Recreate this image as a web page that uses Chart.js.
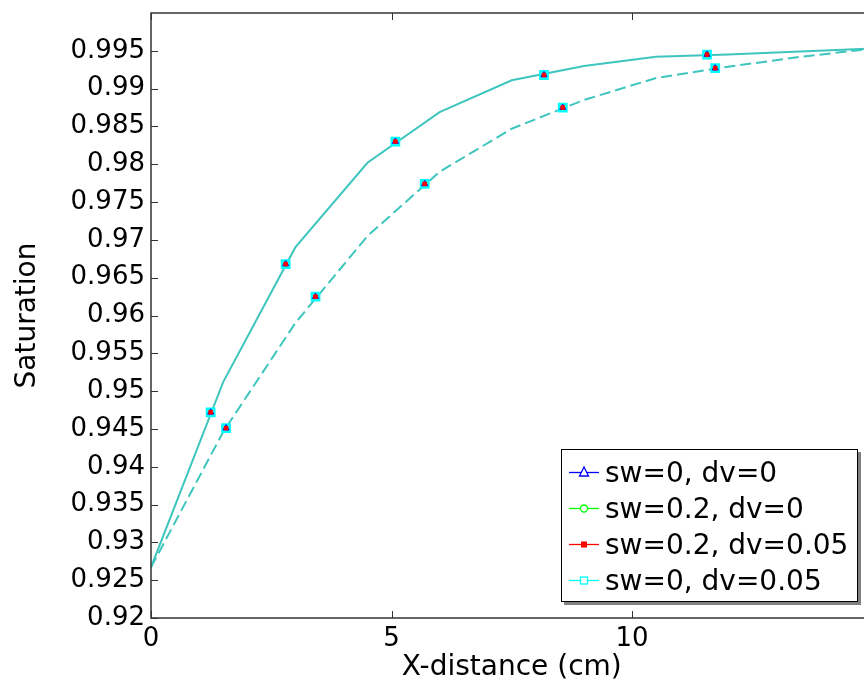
<!DOCTYPE html>
<html>
<head>
    <title>Saturation x X-distance</title>
    <script src="https://cdn.jsdelivr.net/npm/chart.js"></script>
    <style>
        body{
            margin: 0;
            overflow: hidden;
            background: #fff;
        }
        #caixa{
            position: relative;
            width: 880px;
            height: 685px;
        }
        #legenda{
            position: absolute;
            left: 561px;
            top: 449px;
            width: 297px;
            height: 153px;
            box-sizing: border-box;
            border: 1px solid #000;
            background: #fff;
            box-shadow: 3px 3px 0 #808080;
            font-family: "DejaVu Sans";
            font-size: 28px;
            padding-top: 4px;
        }
        .item{
            height: 36px;
            display: flex;
            align-items: center;
            white-space: nowrap;
        }
        .item canvas{
            margin: 0 6px 0 7px;
        }
    </style>
</head>
<body>
    <div id="caixa">
        <canvas id="grafico" width="880" height="685"></canvas>
        <div id="legenda"></div>
    </div>

    <script>
        // nós da malha (cm) e saturação nas duas curvas
        const malha = [0, 1.5, 3, 4.5, 6, 7.5, 9, 10.5, 12, 13.5, 15];
        const satCheia = [0.9267, 0.9512, 0.9690, 0.9802, 0.9869, 0.9911, 0.9930, 0.9942, 0.9945, 0.9949, 0.9953];
        const satTracejada = [0.9267, 0.9446, 0.9590, 0.9705, 0.9790, 0.9847, 0.9885, 0.9914, 0.9929, 0.9942, 0.9953];

        // posições dos marcadores
        const xMarcCheia = [1.24, 2.80, 5.08, 8.17, 11.56];
        const yMarcCheia = [0.9472, 0.9668, 0.9830, 0.9918, 0.9945];
        const xMarcTracejada = [1.56, 3.42, 5.69, 8.56, 11.73];
        const yMarcTracejada = [0.9451, 0.9625, 0.9774, 0.9875, 0.9927];

        const series = ['sw=0, dv=0', 'sw=0.2, dv=0', 'sw=0.2, dv=0.05', 'sw=0, dv=0.05'];
        const cores = ['#0000ff', '#00ff00', '#ff0000', '#00ffff'];
        const simbolos = ['triangle', 'circle', 'rect', 'rect'];

        const yTicks = [0.92, 0.925, 0.93, 0.935, 0.94, 0.945, 0.95, 0.955, 0.96, 0.965, 0.97, 0.975, 0.98, 0.985, 0.99, 0.995];
        const xTicks = [0, 5, 10];

        const corLinha = 'rgb(62,198,190)';
        const fonte = "DejaVu Sans";

        function pontos(xs, ys) {
            return xs.map((x, i) => ({x: x, y: ys[i]}));
        }

        const marcadores = pontos(xMarcCheia, yMarcCheia).concat(pontos(xMarcTracejada, yMarcTracejada));

        // estilo de cada marcador (ordem: menor = desenhado por cima)
        const estiloMarc = [
            {radius: 3.5, fill: 'rgba(0,0,0,0)', width: 1, order: 1},
            {radius: 3, fill: 'rgba(0,0,0,0)', width: 1, order: 3},
            {radius: 2.5, fill: '#ff0000', width: 1, order: 0},
            {radius: 5.5, fill: 'rgba(60,235,235,0.85)', width: 2, order: 2}
        ];

        const datasets = [
            {
                data: pontos(malha, satCheia),
                showLine: true,
                borderColor: corLinha,
                borderWidth: 2,
                pointRadius: 0,
                order: 5
            },
            {
                data: pontos(malha, satTracejada),
                showLine: true,
                borderColor: corLinha,
                borderWidth: 2,
                borderDash: [11, 5],
                pointRadius: 0,
                order: 5
            }
        ];
        series.forEach((nome, i) => {
            datasets.push({
                label: nome,
                data: marcadores,
                showLine: false,
                pointStyle: simbolos[i],
                pointRadius: estiloMarc[i].radius,
                pointBorderColor: cores[i],
                pointBackgroundColor: estiloMarc[i].fill,
                pointBorderWidth: estiloMarc[i].width,
                order: estiloMarc[i].order
            });
        });

        // moldura e marcas de escala para dentro
        const moldura = {
            id: 'moldura',
            afterDraw(chart) {
                const ctx = chart.ctx;
                const a = chart.chartArea;
                const sx = chart.scales.x;
                const sy = chart.scales.y;
                ctx.save();
                ctx.strokeStyle = '#333';
                ctx.lineWidth = 1.5;
                ctx.strokeRect(a.left, a.top, a.right - a.left, a.bottom - a.top);
                ctx.lineWidth = 1;
                ctx.beginPath();
                xTicks.forEach(v => {
                    const px = Math.round(sx.getPixelForValue(v)) + 0.5;
                    ctx.moveTo(px, a.bottom); ctx.lineTo(px, a.bottom - 7);
                    ctx.moveTo(px, a.top); ctx.lineTo(px, a.top + 7);
                });
                yTicks.forEach(v => {
                    const py = Math.round(sy.getPixelForValue(v)) + 0.5;
                    ctx.moveTo(a.left, py); ctx.lineTo(a.left + 7, py);
                    ctx.moveTo(a.right, py); ctx.lineTo(a.right - 7, py);
                });
                ctx.stroke();
                ctx.restore();
            }
        };

        new Chart(document.getElementById('grafico'), {
            type: 'scatter',
            data: {datasets: datasets},
            plugins: [moldura],
            options: {
                responsive: false,
                animation: false,
                events: [],
                layout: {padding: {top: 13, right: 7, left: 0, bottom: 0}},
                plugins: {
                    legend: {display: false},
                    tooltip: {enabled: false}
                },
                scales: {
                    x: {
                        type: 'linear',
                        min: 0,
                        max: 15,
                        afterBuildTicks: s => { s.ticks = xTicks.map(v => ({value: v})); },
                        afterFit: s => { s.height = 67; s.paddingLeft = 0; s.paddingRight = 0; },
                        grid: {display: false, drawTicks: false},
                        border: {display: false},
                        ticks: {
                            color: '#000',
                            padding: 6,
                            maxRotation: 0,
                            font: {family: fonte, size: 26}
                        },
                        title: {
                            display: true,
                            text: 'X-distance (cm)',
                            color: '#000',
                            padding: {top: 0, bottom: 0},
                            font: {family: fonte, size: 28}
                        }
                    },
                    y: {
                        min: 0.92,
                        max: 1.0,
                        afterBuildTicks: s => { s.ticks = yTicks.map(v => ({value: v})); },
                        afterFit: s => { s.width = 151; s.paddingTop = 0; s.paddingBottom = 0; },
                        grid: {display: false, drawTicks: false},
                        border: {display: false},
                        ticks: {
                            color: '#000',
                            padding: 6,
                            font: {family: fonte, size: 26},
                            callback: v => String(+v.toFixed(3))
                        },
                        title: {
                            display: true,
                            text: 'Saturation',
                            color: '#000',
                            padding: {top: 11, bottom: 0},
                            font: {family: fonte, size: 28}
                        }
                    }
                }
            }
        });

        // legenda em HTML dentro da área do gráfico
        const legenda = document.getElementById('legenda');
        series.forEach((nome, i) => {
            const item = document.createElement('div');
            item.className = 'item';
            const c = document.createElement('canvas');
            c.width = 30; c.height = 16;
            const g = c.getContext('2d');
            g.strokeStyle = cores[i];
            g.lineWidth = 1.3;
            g.beginPath(); g.moveTo(0, 8.5); g.lineTo(30, 8.5); g.stroke();
            g.fillStyle = '#fff';
            if (simbolos[i] === 'triangle') {
                g.beginPath(); g.moveTo(15, 3); g.lineTo(10.5, 12); g.lineTo(19.5, 12); g.closePath();
                g.fill(); g.stroke();
            } else if (simbolos[i] === 'circle') {
                g.beginPath(); g.arc(15, 8.5, 3.5, 0, Math.PI * 2); g.fill(); g.stroke();
            } else if (i === 2) {
                g.fillStyle = cores[i]; g.fillRect(12, 5.5, 6, 6);
            } else {
                g.fillRect(11, 4.5, 8, 8); g.strokeRect(11.5, 5, 7, 7);
            }
            item.appendChild(c);
            item.appendChild(document.createTextNode(nome));
            legenda.appendChild(item);
        });
    </script>
</body>
</html>
